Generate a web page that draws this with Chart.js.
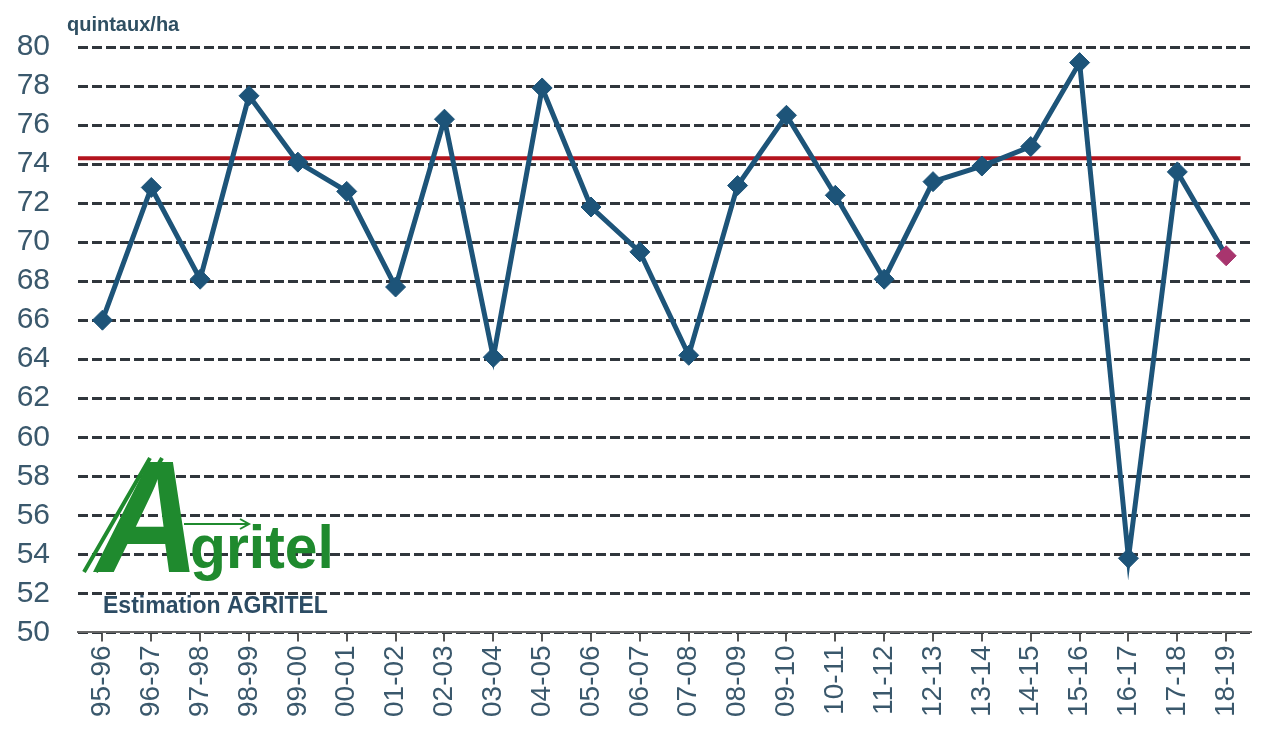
<!DOCTYPE html>
<html>
<head>
<meta charset="utf-8">
<script src="https://cdn.jsdelivr.net/npm/chart.js@4/dist/chart.umd.min.js"></script>
<style>
  html, body { margin: 0; background: #fff; overflow: hidden; }
  #wrap { width: 1264px; height: 729px; position: relative; }
  canvas { display: block; }
</style>
</head>
<body>
<div id="wrap"><canvas id="yieldChart"></canvas></div>
<script>
const campaigns = ['95-96', '96-97', '97-98', '98-99', '99-00', '00-01', '01-02', '02-03',
    '03-04', '04-05', '05-06', '06-07', '07-08', '08-09', '09-10', '10-11', '11-12',
    '12-13', '13-14', '14-15', '15-16', '16-17', '17-18', '18-19'];
const yields = [66.0, 72.8, 68.1, 77.5, 74.1, 72.6, 67.7, 76.3, 64.1, 77.9, 71.8, 69.5,
    64.2, 72.9, 76.5, 72.4, 68.1, 73.1, 73.9, 74.9, 79.2, 53.8, 73.6, 69.3];
const averageYield = 74.3;
const yTicks = { min: 50, max: 80, step: 2 };

const lineColor = '#1d5479';
const estimateColor = '#a8356e';
const textColor = '#3a586c';

// last campaign is an estimate -> other colour
const pointColors = yields.map((v, i) => i === yields.length - 1 ? estimateColor : lineColor);

const decorPlugin = {
    id: 'decor',
    beforeDraw(chart) {
        const ctx = chart.ctx;
        ctx.save();
        ctx.fillStyle = '#fff';
        ctx.fillRect(0, 0, chart.width, chart.height);
        ctx.restore();
    },
    beforeDatasetsDraw(chart) {
        const ctx = chart.ctx;
        const area = chart.chartArea;
        const y = chart.scales.y.getPixelForValue(averageYield);

        // logo
        ctx.save();
        ctx.fillStyle = '#1f8a2e';
        ctx.strokeStyle = '#1f8a2e';
        ctx.lineWidth = 4;
        ctx.beginPath();
        ctx.moveTo(84, 572); ctx.lineTo(150, 458);
        ctx.moveTo(96, 572); ctx.lineTo(162, 458);
        ctx.stroke();
        ctx.textBaseline = 'alphabetic';
        ctx.save();
        ctx.translate(96, 572);
        ctx.scale(0.9, 1);
        ctx.font = 'italic bold 160px "Liberation Sans"';
        ctx.fillText('A', 0, 0);
        ctx.restore();
        ctx.save();
        ctx.translate(190, 568);
        ctx.scale(1.05, 1.1);
        ctx.font = 'bold 56px "Liberation Sans"';
        ctx.fillText('gritel', 0, 0);
        ctx.restore();
        ctx.lineWidth = 2;
        ctx.beginPath();
        ctx.moveTo(184, 524); ctx.lineTo(248, 524);
        ctx.moveTo(240, 519); ctx.lineTo(249, 524); ctx.lineTo(240, 529);
        ctx.stroke();
        ctx.fillStyle = '#2c4c64';
        ctx.font = 'bold 23px "Liberation Sans"';
        ctx.fillText('Estimation AGRITEL', 103, 613);
        ctx.restore();

        // average line
        ctx.save();
        ctx.strokeStyle = '#b3141e';
        ctx.lineWidth = 4;
        ctx.beginPath();
        ctx.moveTo(area.left, y);
        ctx.lineTo(area.right - 10, y);
        ctx.stroke();
        ctx.restore();
    },
    afterDraw(chart) {
        const ctx = chart.ctx;
        ctx.save();
        ctx.fillStyle = '#2f4f62';
        ctx.font = 'bold 20px "Liberation Sans"';
        ctx.fillText('quintaux/ha', 67, 31);
        ctx.restore();
    }
};

new Chart(document.getElementById('yieldChart'), {
    type: 'line',
    data: {
        labels: campaigns,
        datasets: [{
            label: 'Rendement',
            data: yields,
            borderColor: lineColor,
            borderWidth: 5,
            tension: 0,
            pointStyle: 'rectRot',
            pointRadius: 10,
            pointBorderWidth: 1,
            pointBackgroundColor: pointColors,
            pointBorderColor: pointColors
        }]
    },
    options: {
        responsive: true,
        maintainAspectRatio: false,
        animation: false,
        layout: { padding: { top: 47, left: 0, right: -6, bottom: 8 } },
        plugins: {
            legend: { display: false },
            tooltip: { enabled: false }
        },
        scales: {
            x: {
                offset: true,
                grid: {
                    drawOnChartArea: false,
                    drawTicks: true,
                    tickLength: 9,
                    color: '#555',
                    lineWidth: 2
                },
                border: { display: true, color: '#666', width: 2 },
                ticks: {
                    autoSkip: false,
                    minRotation: 90,
                    maxRotation: 90,
                    padding: 4,
                    color: textColor,
                    font: { family: '"Liberation Sans"', size: 28 }
                }
            },
            y: {
                min: yTicks.min,
                max: yTicks.max,
                afterFit(scale) { scale.width = 78; },
                ticks: {
                    stepSize: yTicks.step,
                    padding: 28,
                    color: textColor,
                    font: { family: '"Liberation Sans"', size: 30 }
                },
                grid: {
                    drawTicks: false,
                    color: '#30363c',
                    lineWidth: 3
                },
                border: { display: false, dash: [10, 4] }
            }
        }
    },
    plugins: [decorPlugin]
});
</script>
</body>
</html>
